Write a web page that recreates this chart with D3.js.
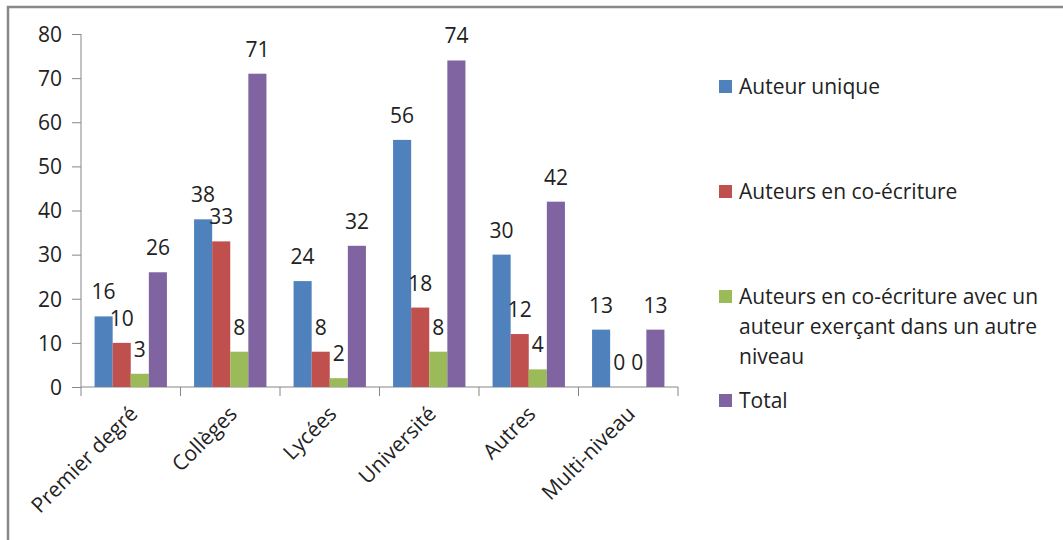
<!DOCTYPE html>
<html><head><meta charset="utf-8">
<script src="https://cdn.jsdelivr.net/npm/d3@7"></script>
<style>body{margin:0;background:#fff}svg{display:block}text{font-family:"Open Sans",Lato,sans-serif;fill:#222}</style>
</head><body><svg id="c" width="1063" height="540"></svg>
<script>
const categories = ["Premier degré","Collèges","Lycées","Université","Autres","Multi-niveau"];
const seriesNames = ["Auteur unique","Auteurs en co-écriture","Auteurs en co-écriture avec un auteur exerçant dans un autre niveau","Total"];
const auteurUnique = [16,38,24,56,30,13];
const coEcriture = [10,33,8,18,12,0];
const coEcritureAutreNiveau = [3,8,2,8,4,0];
const total = [26,71,32,74,42,13];
const yTicks = [0,10,20,30,40,50,60,70,80];
const colors = ["#4F81BD","#C0504D","#9BBB59","#8064A2"];
const legendLines = [["Auteur unique"],["Auteurs en co-écriture"],["Auteurs en co-écriture avec un","auteur exerçant dans un autre","niveau"],["Total"]];

const series = [auteurUnique, coEcriture, coEcritureAutreNiveau, total];
const FS = "21px";
const svg = d3.select("#c");
svg.append("rect").attr("x",8).attr("y",7).attr("width",1070).attr("height",560)
  .attr("fill","none").attr("stroke","#898989").attr("stroke-width",2.5);

const x0 = d3.scaleBand().domain(categories).range([81,678]).paddingInner(0).paddingOuter(0);
const x1 = d3.scaleBand().domain(d3.range(4)).range([0,x0.bandwidth()]).paddingOuter(0.75).paddingInner(0);
const y = d3.scaleLinear().domain([0,80]).range([387,34]);

const yAxis = svg.append("g").attr("transform","translate(81,0)")
  .call(d3.axisLeft(y).tickValues(yTicks).tickSize(9).tickPadding(10));
yAxis.selectAll("line,path").attr("stroke","#868686");
yAxis.select("path").attr("d","M0,34V387");
yAxis.selectAll("text").style("font-size",FS).attr("fill","#222").attr("dy","0.35em");

const xAxis = svg.append("g").attr("transform","translate(0,387)")
  .call(d3.axisBottom(x0).tickSize(0).tickFormat(""));
xAxis.select("path").attr("stroke","#868686").attr("d","M81,0H678");
const tickPos = d3.range(categories.length+1).map(i=>81+i*x0.step());
svg.append("g").selectAll("line").data(tickPos).join("line")
  .attr("x1",d=>d).attr("x2",d=>d).attr("y1",387).attr("y2",396).attr("stroke","#868686");

categories.forEach((c,i)=>{
  const cx = x0(c)+x0.bandwidth()/2+3;
  svg.append("text").attr("transform",`translate(${cx},410) rotate(-45)`)
    .attr("text-anchor","end").attr("dy","0.35em").style("font-size",FS).text(c);
});

const g = svg.append("g");
series.forEach((vals,si)=>{
  g.selectAll(null).data(vals).join("rect")
    .attr("x",(d,i)=>x0(categories[i])+x1(si))
    .attr("width",x1.bandwidth())
    .attr("y",d=>y(d)).attr("height",d=>y(0)-y(d))
    .attr("fill",colors[si]);
  g.selectAll(null).data(vals).join("text")
    .attr("x",(d,i)=>x0(categories[i])+x1(si)+x1.bandwidth()/2)
    .attr("y",d=>y(d)-17)
    .attr("text-anchor","middle").style("font-size",FS).text(d=>d);
});

const legendY = [87,192,297,401];
legendLines.forEach((lines,i)=>{
  svg.append("rect").attr("x",719).attr("y",legendY[i]-7).attr("width",13).attr("height",13).attr("fill",colors[i]);
  const t = svg.append("text").attr("x",739).attr("y",legendY[i]).style("font-size",FS);
  lines.forEach((l,j)=>t.append("tspan").attr("x",739).attr("dy",j===0?"0.35em":"30").text(l));
});
</script></body></html>
